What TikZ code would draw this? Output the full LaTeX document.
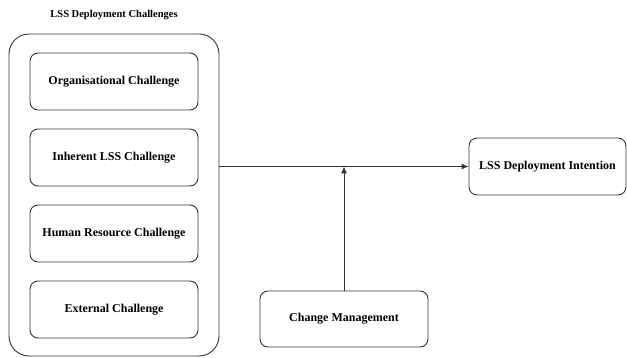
\documentclass[tikz,border=0pt]{standalone}
\usepackage{fontspec}
\setmainfont{Liberation Serif}
\usetikzlibrary{arrows.meta}

\tikzset{
  box/.style={draw=black!80, line width=0.9pt, rounded corners=8pt, align=center,
    font=\bfseries\fontsize{12}{14}\selectfont},
  link/.style={draw=black!80, line width=0.9pt, -{Latex[length=7pt,width=6pt]}}
}

\begin{document}
\begin{tikzpicture}[x=1pt, y=-1pt]
\useasboundingbox (0,0) rectangle (627,358);

\pgfmathsetmacro{\W}{168}
\pgfmathsetmacro{\H}{57}

% left group
\node[draw=black!80, line width=0.9pt, rounded corners=20pt,
      minimum width=210pt, minimum height=322pt] (group) at (114,195) {};
\node[font=\bfseries\fontsize{10.5}{12}\selectfont] (title) at (114,15) {LSS Deployment Challenges};

\node[box, minimum width=\W pt, minimum height=\H pt] (org) at (114,81.5) {Organisational Challenge};
\node[box, minimum width=\W pt, minimum height=\H pt] (inh) at (114,157.5) {Inherent LSS Challenge};
\node[box, minimum width=\W pt, minimum height=\H pt] (hum) at (114,233.5) {Human Resource Challenge};
\node[box, minimum width=\W pt, minimum height=\H pt] (ext) at (114,309.5) {External Challenge};

% right side
\node[box, minimum width=157pt, minimum height=\H pt] (intent) at (547.5,166.5) {LSS Deployment Intention};
\node[box, minimum width=\W pt, minimum height=56pt] (change) at (344,319) {Change Management};

\draw[link] (group.east |- intent.west) -- (intent.west);
\draw[link] (change.north) -- (change.north |- intent.west);

\end{tikzpicture}
\end{document}
